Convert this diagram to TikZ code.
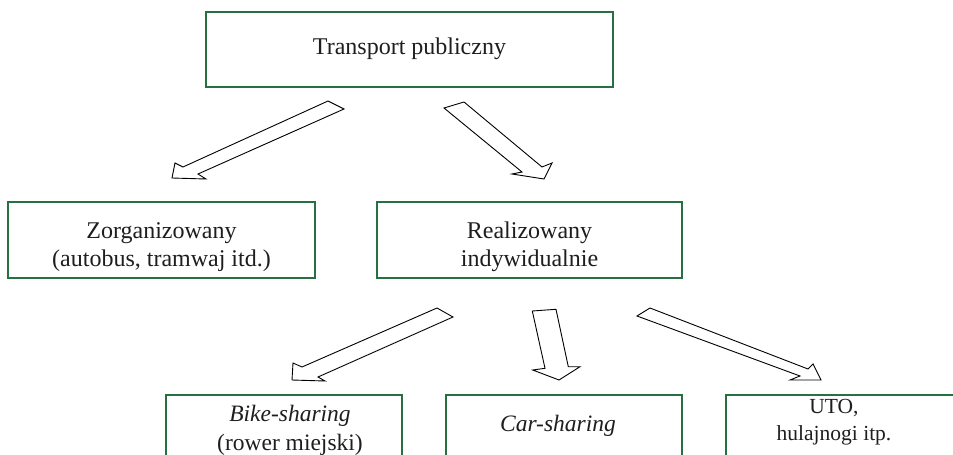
\documentclass[tikz,border=0pt]{standalone}
\usepackage{fontspec}
\setmainfont{Liberation Serif}
\definecolor{boxgreen}{RGB}{38,112,66}
\definecolor{ink}{RGB}{30,30,30}
\begin{document}
\begin{tikzpicture}[x=1pt,y=-1pt,
  box/.style={draw=boxgreen, line width=1.4pt, fill=white, inner sep=0pt},
  boxtext/.style={text=ink, align=center, inner sep=0pt,
    font=\fontsize{24}{28.5}\selectfont},
  smalltext/.style={boxtext, font=\fontsize{23.5}{29}\selectfont},
  tinytext/.style={boxtext, font=\fontsize{21.5}{27.5}\selectfont},
  blockarrow/.style={draw=black, line width=0.9pt, fill=white, line join=miter}]
\useasboundingbox (0,0) rectangle (953,455);
\clip (0,0) rectangle (953,455);

% boxes with their captions
\node[box, minimum width=407pt, minimum height=75pt,
  label={[boxtext, yshift=1pt]center:Transport publiczny}] (top) at (409.5,49.5) {};
\node[box, minimum width=307pt, minimum height=76pt,
  label={[boxtext, yshift=-7pt]center:Zorganizowany\\(autobus, tramwaj itd.)}] (zorg) at (161.5,240) {};
\node[box, minimum width=305pt, minimum height=76pt,
  label={[boxtext, yshift=-7pt]center:Realizowany\\indywidualnie}] (real) at (529.5,240) {};
\node[box, minimum width=236pt, minimum height=76pt,
  label={[smalltext, xshift=6pt, yshift=2.5pt]center:\textit{Bike-sharing}\\(rower miejski)}] (bike) at (284,433) {};
\node[box, minimum width=236pt, minimum height=76pt,
  label={[smalltext, xshift=-6pt, yshift=7pt]center:\textit{Car-sharing}}] (car) at (564,433) {};
\node[box, minimum width=236pt, minimum height=76pt,
  label={[tinytext, xshift=-10pt, yshift=11pt]center:UTO,\\hulajnogi itp.}] (uto) at (844,433) {};

% hollow block arrows
\draw[blockarrow] (328,101) -- (183,167) -- (175,163) -- (172,178) -- (206,179) -- (198,174) -- (344,109) -- cycle;
\draw[blockarrow] (444,108) -- (522,172) -- (512,174) -- (544,179) -- (552,163) -- (542,167) -- (464,102) -- cycle;
\draw[blockarrow] (437,308) -- (302,367) -- (293,363) -- (292,380) -- (325,381) -- (318,377) -- (453,317) -- cycle;
\draw[blockarrow] (532.3,311) -- (545,368.3) -- (532.7,370) -- (559,380) -- (580,366.7) -- (568.3,366.7) -- (556,309.3) -- cycle;
\draw[blockarrow] (650,308) -- (808,369) -- (813,364) -- (821,380) -- (790,380) -- (800,376) -- (637,316) -- cycle;
\end{tikzpicture}
\end{document}
